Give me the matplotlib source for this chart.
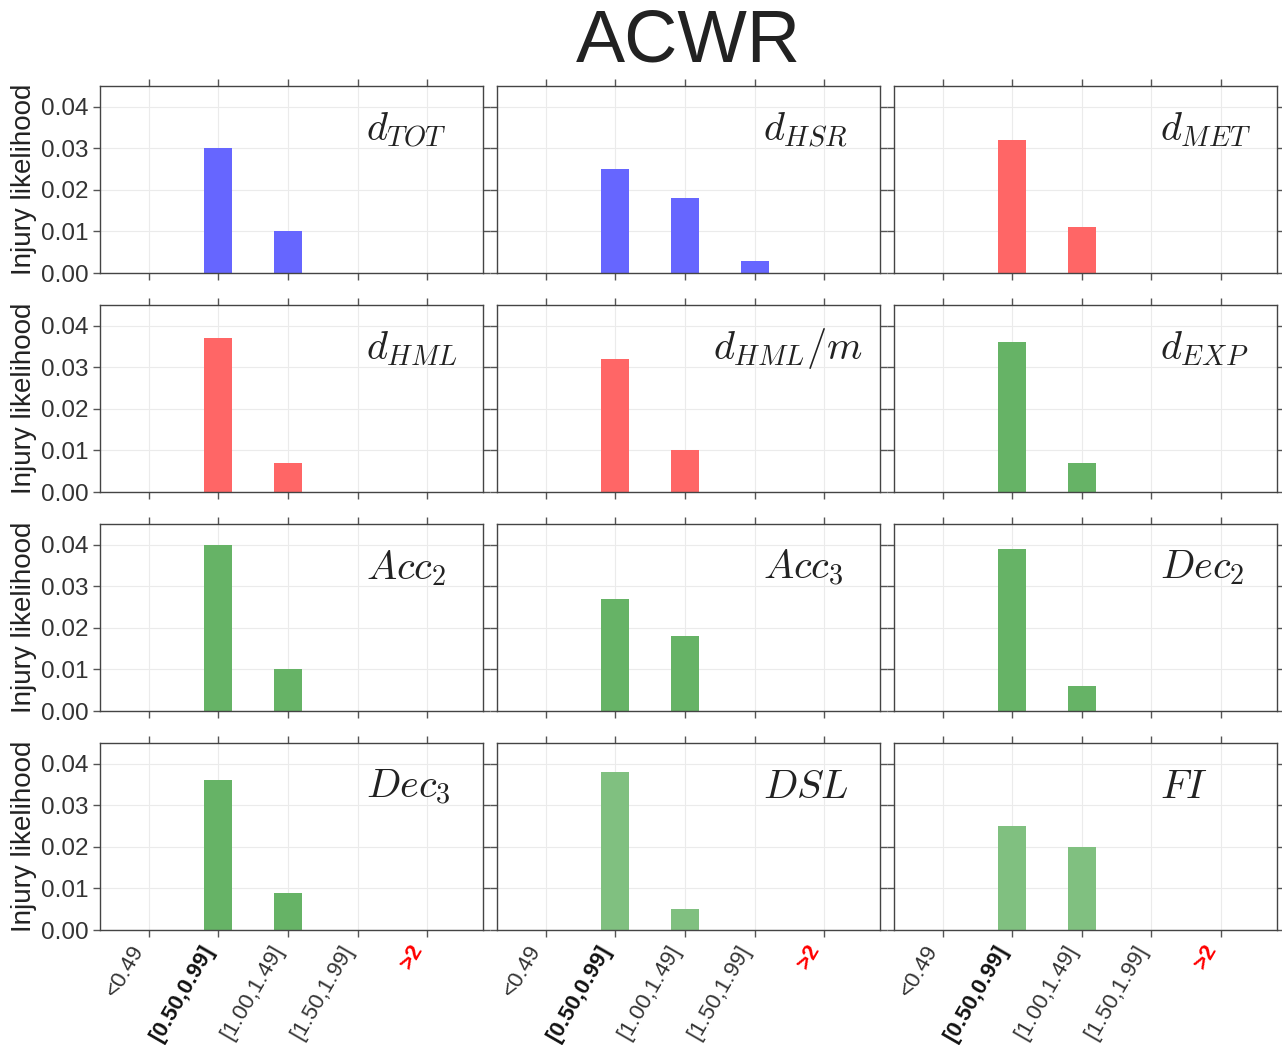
import matplotlib
matplotlib.use("Agg")
import matplotlib.pyplot as plt
import numpy as np

plt.rcParams['font.family'] = ['Liberation Sans', 'DejaVu Sans']
plt.rcParams['mathtext.fontset'] = 'cm'

categories = ['<0.49', '[0.50,0.99]', '[1.00,1.49]', '[1.50,1.99]', '>2']
labels = [r'$d_{TOT}$', r'$d_{HSR}$', r'$d_{MET}$',
          r'$d_{HML}$', r'$d_{HML}/m$', r'$d_{EXP}$',
          r'$Acc_2$', r'$Acc_3$', r'$Dec_2$',
          r'$Dec_3$', r'$DSL$', r'$FI$']
d_tot = [0, 0.030, 0.010, 0, 0]
d_hsr = [0, 0.025, 0.018, 0.003, 0]
d_met = [0, 0.032, 0.011, 0, 0]
d_hml = [0, 0.037, 0.007, 0, 0]
d_hml_m = [0, 0.032, 0.010, 0, 0]
d_exp = [0, 0.036, 0.007, 0, 0]
acc2 = [0, 0.040, 0.010, 0, 0]
acc3 = [0, 0.027, 0.018, 0, 0]
dec2 = [0, 0.039, 0.006, 0, 0]
dec3 = [0, 0.036, 0.009, 0, 0]
dsl = [0, 0.038, 0.005, 0, 0]
fi = [0, 0.025, 0.020, 0, 0]
series = [d_tot, d_hsr, d_met, d_hml, d_hml_m, d_exp, acc2, acc3, dec2, dec3, dsl, fi]
colors = ['#6666ff', '#6666ff', '#ff6666', '#ff6666', '#ff6666', '#66b366',
          '#66b366', '#66b366', '#66b366', '#66b366', '#80c080', '#80c080']
label_x = [0.694] * 12
label_x[4] = 0.565

fig, axes = plt.subplots(4, 3, figsize=(12.82, 10.45), dpi=100, sharex=True, sharey=True)
fig.subplots_adjust(left=0.078, right=0.996, top=0.9177, bottom=0.110, wspace=0.036, hspace=0.171)

x = np.arange(len(categories))
for i, ax in enumerate(axes.flat):
    ax.set_axisbelow(True)
    ax.grid(True, color='#ebebeb', linewidth=0.8)
    ax.bar(x, series[i], width=0.4, color=colors[i])
    ax.set_xlim(-0.7, 4.8)
    ax.set_ylim(0, 0.045)
    ax.set_yticks([0, 0.01, 0.02, 0.03, 0.04])
    ax.set_xticks(x)
    ax.tick_params(direction='out', top=True, right=True, length=5, color='#555555',
                   labelsize=17.5, width=1, labelcolor='#333333', pad=3)
    for sp in ax.spines.values():
        sp.set_color('#444444')
        sp.set_linewidth(1)
    ax.text(label_x[i], 0.765, labels[i], transform=ax.transAxes, ha='left', va='center',
            fontsize=29, color='#222222')
    if i % 3 == 0:
        ax.set_ylabel('Injury likelihood', fontsize=20, color='#222222', labelpad=3)
        ax.set_yticklabels(['0.00', '0.01', '0.02', '0.03', '0.04'])
    if i >= 9:
        ax.set_xticklabels(categories, rotation=60, ha='right', fontsize=16)
        tl = ax.get_xticklabels()
        tl[1].set_fontweight('bold')
        tl[1].set_color('#111111')
        tl[4].set_fontweight('bold')
        tl[4].set_color('red')

fig.suptitle('ACWR', fontsize=53, x=0.537, y=0.993, va='top', color='#222222')
fig.savefig('out.png', dpi=100)
